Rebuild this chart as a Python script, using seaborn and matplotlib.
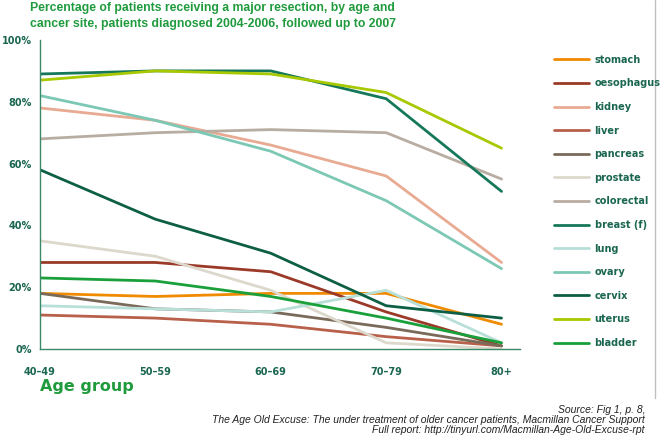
import matplotlib
matplotlib.use("Agg")
import matplotlib.pyplot as plt
import seaborn as sns
import pandas as pd
from matplotlib.lines import Line2D

sns.set_theme(style="white")
plt.rcParams['font.family'] = ['DejaVu Sans']

# Veriler (grafikten okunan yaklaşık yüzdeler)
age_groups = ["40\u201349", "50\u201359", "60\u201369", "70\u201379", "80+"]
sites = ["stomach", "oesophagus", "kidney", "liver", "pancreas", "prostate",
         "colorectal", "breast (f)", "lung", "ovary", "cervix", "uterus", "bladder"]

stomach = [18, 17, 18, 18, 8]
oesophagus = [28, 28, 25, 12, 1]
kidney = [78, 74, 66, 56, 28]
liver = [11, 10, 8, 4, 1]
pancreas = [18, 13, 12, 7, 1]
prostate = [35, 30, 19, 2, 0]
colorectal = [68, 70, 71, 70, 55]
breast = [89, 90, 90, 81, 51]
lung = [14, 13, 12, 19, 2]
ovary = [82, 74, 64, 48, 26]
cervix = [58, 42, 31, 14, 10]
uterus = [87, 90, 89, 83, 65]
bladder = [23, 22, 17, 10, 2]

series = [stomach, oesophagus, kidney, liver, pancreas, prostate, colorectal,
          breast, lung, ovary, cervix, uterus, bladder]

colors = ["#f08a00", "#9b3a28", "#e8aa92", "#b8604a", "#7a6a5a", "#ddd8cc",
          "#b8ada2", "#16785a", "#b8e0d8", "#7cc8b4", "#0c5e44", "#a8c800", "#1aa03a"]
palette = dict(zip(sites, colors))

rows = []
for site, vals in zip(sites, series):
    for age, v in zip(age_groups, vals):
        rows.append({"site": site, "age": age, "pct": v})
df = pd.DataFrame(rows)

fig = plt.figure(figsize=(6.7, 4.37), dpi=100)
ax = fig.add_axes([40 / 670, 1 - 349 / 437, 480 / 670, 309 / 437])

sns.lineplot(data=df, x="age", y="pct", hue="site", hue_order=sites,
             palette=palette, sort=False, lw=2, ax=ax, legend=False)

ax.set_xlim(0, 4.16)
ax.set_ylim(0, 100)
ax.set_yticks([0, 20, 40, 60, 80, 100])
ax.set_yticklabels(["0%", "20%", "40%", "60%", "80%", "100%"])
ax.set_xticks(range(5))
ax.set_xticklabels(age_groups)
tick_col = "#1a6650"
for lab in ax.get_yticklabels() + ax.get_xticklabels():
    lab.set_color(tick_col)
    lab.set_fontweight("bold")
    lab.set_fontsize(7)
ax.tick_params(axis="both", length=0)
ax.tick_params(axis="x", pad=13)
ax.tick_params(axis="y", pad=6)
for s in ["top", "right"]:
    ax.spines[s].set_visible(False)
for s in ["left", "bottom"]:
    ax.spines[s].set_color("#3a8a6a")
    ax.spines[s].set_linewidth(1)
ax.set_xlabel("")
ax.set_ylabel("")
ax.grid(False)

# Başlık
fig.text(30 / 670, 1 - 2 / 437,
         "Percentage of patients receiving a major resection, by age and\n"
         "cancer site, patients diagnosed 2004-2006, followed up to 2007",
         ha="left", va="top", fontsize=8.8, color="#1f9a3c", fontweight="bold",
         family=["Liberation Sans"], linespacing=1.45)

fig.text(40 / 670, 1 - 387 / 437, "Age group", ha="left", va="center",
         fontsize=11.5, color="#1f9a3c", fontweight="bold")

# Lejant
handles = [Line2D([0], [0], color=c, lw=2) for c in colors]
leg = fig.legend(handles, sites, loc="upper left",
                 bbox_to_anchor=(545 / 670, 1 - 46 / 437), frameon=False,
                 handlelength=3.6, labelspacing=1.40, fontsize=7,
                 handletextpad=0.6)
for t in leg.get_texts():
    t.set_color(tick_col)
    t.set_fontweight("bold")

# Çerçeve çizgisi
fig.add_artist(Line2D([655 / 670, 655 / 670], [1 - 0 / 437, 1 - 398 / 437],
                      color="#c0c0c0", lw=1, transform=fig.transFigure))

fig.text(645 / 670, 1 - 405 / 437,
         "Source: Fig 1, p. 8,\n"
         "The Age Old Excuse: The under treatment of older cancer patients, Macmillan Cancer Support\n"
         "Full report: http://tinyurl.com/Macmillan-Age-Old-Excuse-rpt",
         ha="right", va="top", fontsize=7.5, style="italic", color="#222222",
         family=["Liberation Sans"], linespacing=1.02, multialignment="right")

plt.savefig("out.png", dpi=100)
